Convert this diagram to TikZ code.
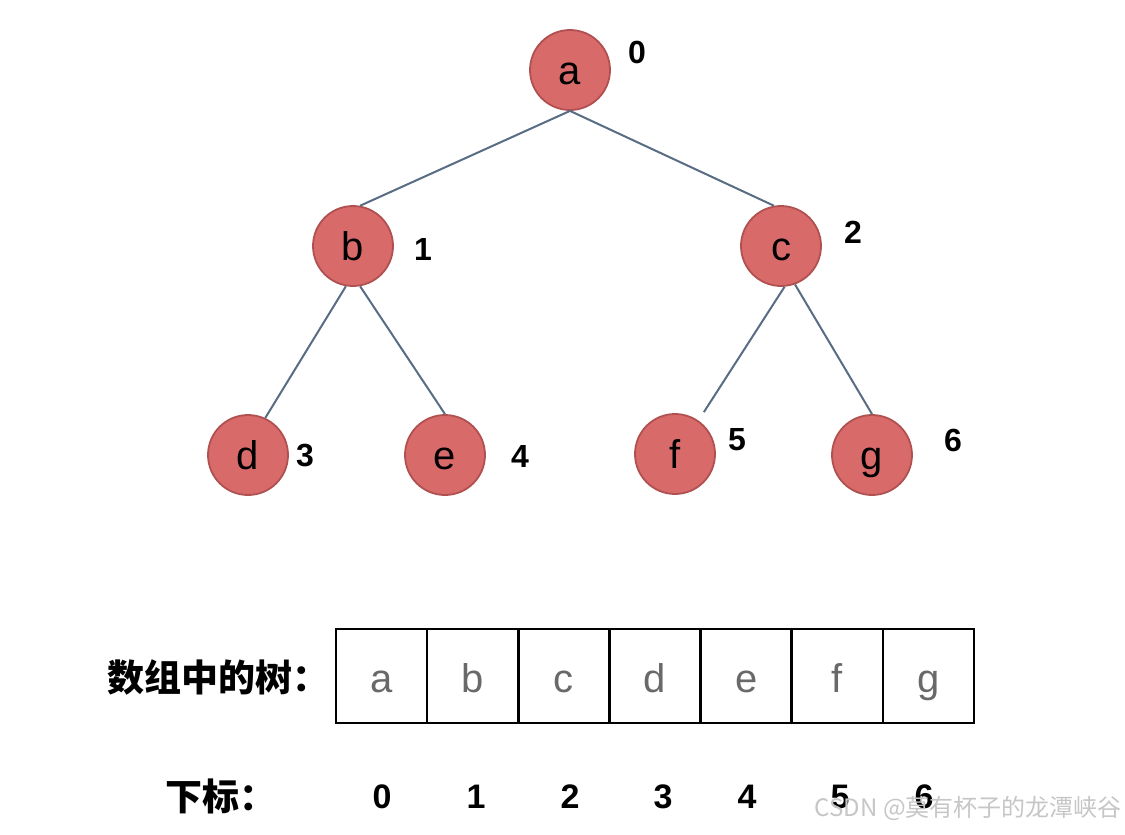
\documentclass[tikz,border=0pt]{standalone}
\usepackage{fontspec}
\setmainfont{Liberation Sans}
\newfontfamily\cjk{Noto Sans CJK SC}

\definecolor{nodered}{RGB}{217,106,106}
\definecolor{noderim}{RGB}{176,80,80}
\definecolor{edgeblue}{RGB}{88,108,132}
\definecolor{cellgray}{RGB}{105,105,105}

\begin{document}
\begin{tikzpicture}[x=1pt,y=-1pt,
    treenode/.style={circle, fill=nodered, draw=noderim, line width=1.8pt,
        minimum size=80pt, inner sep=0pt, text height=28pt, text depth=0pt,
        font=\fontsize{40}{48}\selectfont},
    idx/.style={inner sep=0pt, font=\fontsize{32}{38}\selectfont\bfseries},
    bigidx/.style={inner sep=0pt, font=\fontsize{34}{40}\selectfont\bfseries},
    edge/.style={draw=edgeblue, line width=2pt},
    cell/.style={draw, line width=2.5pt, minimum width=91.14pt, minimum height=94pt,
        inner sep=0pt, text height=40pt, text depth=8pt, text=cellgray,
        font=\fontsize{40}{48}\selectfont}]
    \useasboundingbox (0,0) rectangle (1125,835);

    % Tree
    \node[treenode] (a) at (570,70) {a};
    \node[treenode] (b) at (353,246) {b};
    \node[treenode] (c) at (781,246) {c};
    \node[treenode] (d) at (248,455) {d};
    \node[treenode] (e) at (445,455) {e};
    \node[treenode] (f) at (675,454) {f};
    \node[treenode] (g) at (872,455) {g};

    % Indices next to the nodes
    \node[idx] (l0) at (637,52) {0};
    \node[idx] (l1) at (423,249) {1};
    \node[idx] (l2) at (853,232) {2};
    \node[idx] (l3) at (305,456) {3};
    \node[idx] (l4) at (520,456) {4};
    \node[idx] (l5) at (737,440) {5};
    \node[idx] (l6) at (953,440) {6};

    % Edges
    \draw[edge] (a.south) -- (b.80);
    \draw[edge] (a.south) -- (c.100);
    \draw[edge] (b.260) -- (d.65);
    \draw[edge] (b.280) -- (e.north);
    \draw[edge, shorten >=10pt] (c.275) -- (f.55);
    \draw[edge] (c.290) -- (g.north);

    % Array
    \node[anchor=west, font=\cjk\bfseries\fontsize{37}{44}\selectfont] (arrtitle) at (104,677) {数组中的树：};
    \foreach \l [count=\i from 0] in {a,b,c,d,e,f,g}
        \node[cell] (k\i) at ({381.6+91.14*\i},676) {\l};

    % Array indices
    \node[anchor=west, font=\cjk\bfseries\fontsize{37}{44}\selectfont] (idxtitle) at (162,796) {下标：};
    \foreach \x [count=\i from 0] in {382,476,570,663,747,840,924}
        \node[bigidx] (i\i) at (\x,797) {\i};

    \node[anchor=east, inner sep=0pt, text=gray!45, font=\cjk\fontsize{24}{28}\selectfont] (wm) at (1122,808) {CSDN @莫有杯子的龙潭峡谷};
\end{tikzpicture}
\end{document}
